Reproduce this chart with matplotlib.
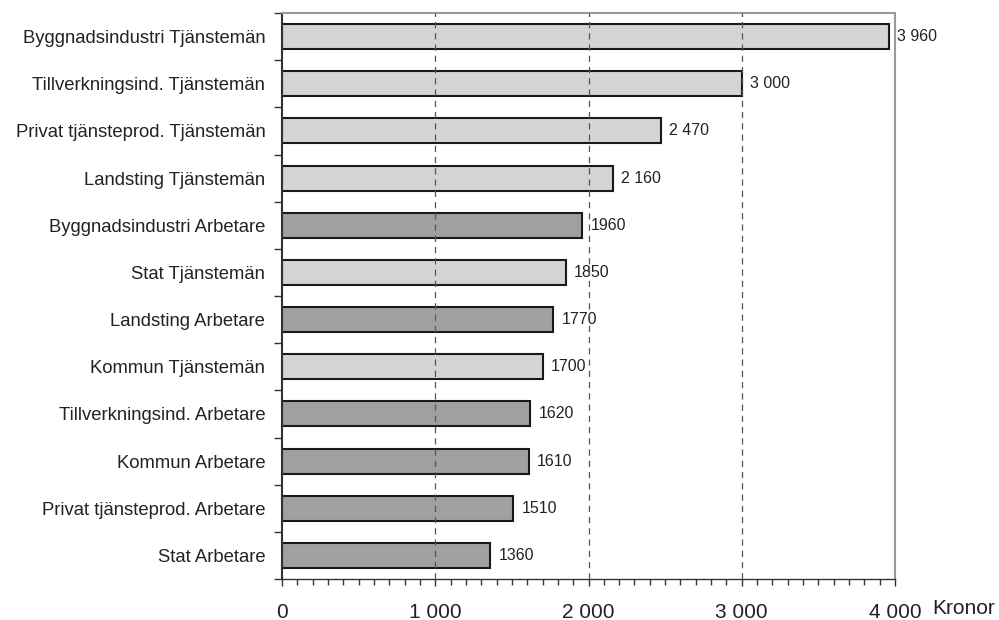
import numpy as np
import matplotlib.pyplot as plt
from matplotlib.ticker import MultipleLocator, FixedLocator

plt.rcParams['font.family'] = ['Liberation Sans', 'DejaVu Sans']

# data (top to bottom)
categories = ['Byggnadsindustri Tjänstemän', 'Tillverkningsind. Tjänstemän',
              'Privat tjänsteprod. Tjänstemän', 'Landsting Tjänstemän',
              'Byggnadsindustri Arbetare', 'Stat Tjänstemän', 'Landsting Arbetare',
              'Kommun Tjänstemän', 'Tillverkningsind. Arbetare', 'Kommun Arbetare',
              'Privat tjänsteprod. Arbetare', 'Stat Arbetare']
values = [3960, 3000, 2470, 2160, 1960, 1850, 1770, 1700, 1620, 1610, 1510, 1360]
value_labels = ['3 960', '3 000', '2 470', '2 160', '1960', '1850', '1770',
                '1700', '1620', '1610', '1510', '1360']
x_ticks = [0, 1000, 2000, 3000, 4000]
x_tick_labels = ['0', '1 000', '2 000', '3 000', '4 000']

light = '#d3d4d6'
dark = '#a0a0a0'
colors = [dark if c.endswith('Arbetare') else light for c in categories]

fig = plt.figure(figsize=(9.99, 6.2), dpi=100)
ax = fig.add_axes([282/999, 1 - 579/620, (895-282)/999, (579-13)/620])

n = len(categories)
y = np.arange(n)
ax.barh(y, values, height=0.53, color=colors, edgecolor='#1a1a1a', linewidth=1.5, zorder=2)

# value labels right of bars
for yi, v, lab in zip(y, values, value_labels):
    ax.annotate(lab, (v, yi), xytext=(6, 0), textcoords='offset points',
                va='center', ha='left', fontsize=11.5, color='#222222', zorder=1)

ax.set_xlim(0, 4000)
ax.set_ylim(n - 0.5, -0.5)

ax.set_xticks(x_ticks)
ax.set_xticklabels(x_tick_labels, fontsize=15, color='#222222')
ax.xaxis.set_minor_locator(MultipleLocator(100))
ax.tick_params(axis='x', which='major', direction='out', length=5, width=1, color='#333333', pad=12)
ax.tick_params(axis='x', which='minor', direction='out', length=4, width=1, color='#333333')

ax.set_yticks(y)
ax.set_yticklabels(categories, fontsize=13.3, color='#222222')
ax.yaxis.set_minor_locator(FixedLocator(np.arange(-0.5, n, 1)))
ax.tick_params(axis='y', which='major', length=0, pad=12)
ax.tick_params(axis='y', which='minor', direction='out', length=6, width=1, color='#333333')

for g in [1000, 2000, 3000]:
    ax.axvline(g, color='#555555', linestyle=(0, (5, 4)), linewidth=0.9, zorder=3)

ax.spines['left'].set_color('#333333')
ax.spines['left'].set_linewidth(1.5)
ax.spines['bottom'].set_color('#333333')
ax.spines['bottom'].set_linewidth(1.0)
ax.spines['top'].set_color('#999999')
ax.spines['right'].set_color('#999999')
ax.spines['top'].set_linewidth(1.5)
ax.spines['right'].set_linewidth(1.5)

fig.text(932/999, 1 - 608/620, 'Kronor', fontsize=15, va='center', ha='left', color='#222222')

fig.savefig('out.png', dpi=100)
